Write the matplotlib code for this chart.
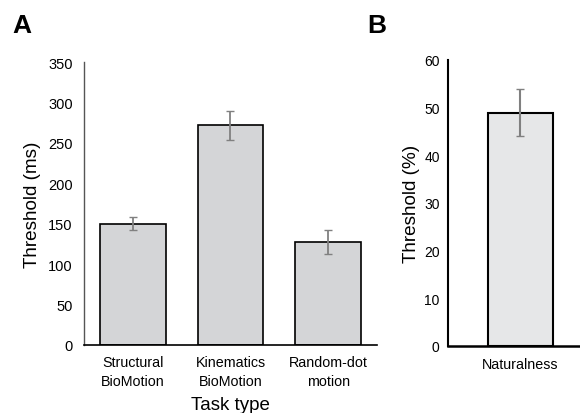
import matplotlib
matplotlib.use("Agg")
import matplotlib.pyplot as plt

plt.rcParams["font.family"] = ["Liberation Sans", "DejaVu Sans"]

# panel A data
tasks = ["Structural\nBioMotion", "Kinematics\nBioMotion", "Random-dot\nmotion"]
thr_ms = [150, 272, 127]
err_ms = [8, 18, 15]

# panel B data
b_labels = ["Naturalness"]
thr_pct = [48.9]
err_pct = [4.9]

fig = plt.figure(figsize=(5.8, 4.14), dpi=100)

axA = fig.add_axes([0.1448, 0.1643, 0.5052, 0.6835])
axA.bar(range(len(tasks)), thr_ms, width=0.67, color="#d4d5d7",
        edgecolor="black", linewidth=1.2)
axA.errorbar(range(len(tasks)), thr_ms, yerr=err_ms, fmt="none",
             ecolor="#808080", elinewidth=1.3, capsize=3, capthick=1)
axA.set_xlim(-0.5, 2.5)
axA.set_ylim(0, 350)
axA.set_yticks(range(0, 351, 50))
axA.set_xticks(range(len(tasks)))
axA.set_xticklabels(tasks, fontsize=10.3, linespacing=1.45)
axA.tick_params(axis="both", length=0)
axA.tick_params(axis="y", labelsize=10.5, pad=8)
axA.tick_params(axis="x", pad=7)
for s in ["top", "right"]:
    axA.spines[s].set_visible(False)
axA.spines["left"].set_color("#555555")
axA.spines["left"].set_linewidth(1.0)
axA.spines["bottom"].set_linewidth(1.2)
axA.set_ylabel("Threshold (ms)", fontsize=13.6, labelpad=5)
axA.set_xlabel("Task type", fontsize=13.5, labelpad=6)

axB = fig.add_axes([0.7724, 0.1626, 0.2276, 0.6908])
axB.bar(range(len(b_labels)), thr_pct, width=0.66, color="#e6e7e8",
        edgecolor="black", linewidth=1.5)
axB.errorbar(range(len(b_labels)), thr_pct, yerr=err_pct, fmt="none",
             ecolor="#808080", elinewidth=1.5, capsize=3, capthick=1)
axB.set_xlim(-0.735, 0.61)
axB.set_ylim(0, 60)
axB.set_yticks(range(0, 61, 10))
axB.set_xticks(range(len(b_labels)))
axB.set_xticklabels(b_labels, fontsize=10.3)
axB.tick_params(axis="both", length=0)
axB.tick_params(axis="y", labelsize=10, pad=6)
axB.tick_params(axis="x", pad=8)
for s in ["top", "right"]:
    axB.spines[s].set_visible(False)
axB.spines["left"].set_linewidth(1.5)
axB.spines["bottom"].set_linewidth(1.8)
axB.set_ylabel("Threshold (%)", fontsize=13.6, labelpad=3)

fig.text(0.021, 0.920, "A", fontsize=19, fontweight="bold", va="baseline")
fig.text(0.633, 0.920, "B", fontsize=19, fontweight="bold", va="baseline")

fig.savefig("out.png", dpi=100)
